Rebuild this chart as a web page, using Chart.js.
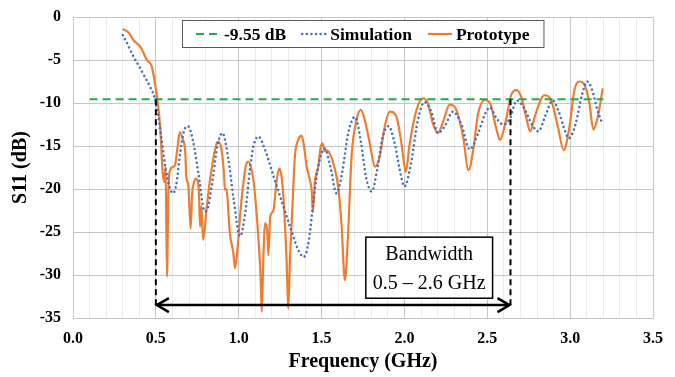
<!DOCTYPE html>
<html>
<head>
<meta charset="utf-8">
<script src="https://cdn.jsdelivr.net/npm/chart.js@4/dist/chart.umd.min.js"></script>
<style>
  html, body { margin: 0; padding: 0; background: #fff; }
  #wrap { width: 675px; height: 377px; }
</style>
</head>
<body>
<div id="wrap"><canvas id="s11Chart"></canvas></div>
<script>
// simulated S11 (blue dotted)
const simFreq = [0.300, 0.330, 0.365, 0.401, 0.426, 0.462, 0.496, 0.522, 0.557, 0.583, 0.603, 0.623, 0.647, 0.669, 0.694,
  0.725, 0.757, 0.795, 0.816, 0.846, 0.871, 0.902, 0.937, 0.968, 1.008, 1.038, 1.069, 1.089, 1.119, 1.160, 1.210, 1.261, 1.312,
  1.362, 1.393, 1.423, 1.453, 1.484, 1.519, 1.554, 1.590, 1.625, 1.661, 1.701, 1.737, 1.767, 1.802, 1.838, 1.868, 1.904,
  1.939, 1.969, 2.000, 2.040, 2.081, 2.121, 2.162, 2.202, 2.243, 2.293, 2.344, 2.394, 2.445, 2.486, 2.516, 2.556, 2.597, 2.637,
  2.678, 2.728, 2.769, 2.809, 2.850, 2.895, 2.931, 2.961, 2.992, 3.032, 3.072, 3.103, 3.133, 3.164, 3.194];
const simS11 = [-2.1, -3.2, -4.6, -5.8, -6.7, -8.0, -9.65, -12.5, -17.4, -19.8, -20.5, -19.5, -15.8, -13.3, -12.7,
  -14.5, -18.2, -22.6, -22.0, -18.5, -15.0, -13.5, -16.5, -21.0, -25.5, -23.0, -17.5, -15.0, -13.9, -15.5, -18.5, -21.5, -24.5,
  -27.2, -27.9, -26.0, -21.0, -17.0, -15.3, -17.5, -20.5, -18.0, -13.5, -11.6, -14.5, -18.5, -20.3, -17.5, -14.0, -12.7,
  -14.5, -17.5, -19.7, -17.0, -12.0, -9.9, -11.0, -13.5, -12.7, -11.0, -12.5, -15.4, -13.5, -11.3, -10.5, -11.8, -12.5, -11.8,
  -9.7, -10.8, -12.5, -13.3, -11.5, -9.7, -11.0, -12.8, -14.1, -12.5, -9.0, -7.5, -8.5, -10.8, -12.4];

// measured S11 (orange)
const protoFreq = [0.300, 0.335, 0.365, 0.406, 0.446, 0.476, 0.496, 0.510, 0.526, 0.542, 0.551, 0.559, 0.567, 0.576,
  0.586, 0.606, 0.616, 0.631, 0.644, 0.664, 0.677, 0.684, 0.696, 0.710, 0.719, 0.727, 0.740, 0.751, 0.760, 0.767, 0.775,
  0.785, 0.806, 0.826, 0.836, 0.851, 0.867, 0.876, 0.897, 0.912, 0.917, 0.927, 0.937, 0.947, 0.968, 0.978, 0.992, 1.008, 1.028,
  1.044, 1.059, 1.074, 1.089, 1.104, 1.118, 1.132, 1.139, 1.148, 1.159, 1.173, 1.179, 1.190, 1.208, 1.229, 1.245, 1.259,
  1.271, 1.289, 1.299, 1.310, 1.326, 1.339, 1.359, 1.379, 1.393, 1.410, 1.430, 1.440, 1.448, 1.459, 1.480, 1.494, 1.506,
  1.519, 1.530, 1.550, 1.571, 1.600, 1.620, 1.641, 1.661, 1.681, 1.711, 1.737, 1.761, 1.791, 1.822, 1.851, 1.881,
  1.912, 1.952, 1.982, 2.008, 2.032, 2.073, 2.112, 2.141, 2.172, 2.202, 2.233, 2.273, 2.313, 2.354, 2.387, 2.415, 2.445, 2.486,
  2.516, 2.556, 2.577, 2.607, 2.644, 2.675, 2.705, 2.734, 2.759, 2.789, 2.845, 2.885, 2.926, 2.961, 2.996, 3.026, 3.056,
  3.087, 3.116, 3.140, 3.167, 3.197];
const protoS11 = [-1.4, -1.8, -2.7, -3.45, -5.0, -5.8, -7.9, -9.65, -12.75, -18.2, -19.2, -17.4, -30.2, -19.9,
  -17.8, -17.4, -17.2, -15.1, -13.4, -14.3, -15.6, -18.6, -19.6, -24.6, -20.5, -19.5, -18.8, -19.0, -20.5, -24.4, -22.0,
  -25.9, -22.4, -19.0, -17.8, -16.0, -14.7, -14.5, -15.5, -18.5, -20.1, -20.0, -22.5, -25.2, -27.5, -29.2, -27.1, -23.2, -19.3,
  -17.2, -16.8, -17.5, -19.0, -21.9, -25.5, -30.2, -34.3, -28.5, -24.0, -25.2, -27.7, -23.2, -22.6, -19.0, -17.6, -18.6,
  -21.3, -28.3, -33.9, -27.9, -21.3, -16.2, -14.3, -13.8, -14.9, -17.4, -19.0, -20.1, -22.7, -19.3, -17.4, -15.2, -14.7,
  -15.6, -15.5, -15.9, -17.0, -19.7, -24.0, -30.6, -24.8, -16.2, -12.0, -10.8, -12.0, -14.7, -17.4, -16.2, -12.75,
  -11.0, -11.6, -14.7, -18.0, -14.7, -10.8, -9.45, -10.0, -12.4, -13.5, -12.2, -10.2, -10.8, -13.9, -17.8, -15.5, -11.2, -9.65,
  -10.0, -13.1, -14.3, -12.5, -9.1, -8.5, -9.3, -11.6, -13.3, -11.4, -9.1, -9.65, -12.75, -15.5, -12.75, -8.5, -7.5,
  -7.9, -10.0, -13.1, -11.6, -8.3];

// -9.55 dB reference line
const refFreq = [0.1, 3.2];
const refLevel = -9.55;

// bandwidth marker
const bandStart = 0.5;
const bandEnd = 2.64;
const arrowLevel = -33.5;
const bandText = ['Bandwidth', '0.5 \u2013 2.6 GHz'];
const bandBoxFreq = [1.767, 2.532];
const bandBoxDb = [-25.6, -32.7];

// axes
const xMin = 0, xMax = 3.5, xStep = 0.1;
const yMin = -35, yMax = 0, yStep = 5;

const serif = '"Liberation Serif", "Times New Roman", serif';

function toPoints(xs, ys) {
    return xs.map((x, i) => ({ x: x, y: ys[i] }));
}

const isMajor = v => Math.abs(v * 2 - Math.round(v * 2)) < 1e-6;

// dashed verticals, double arrow and the bandwidth box
const bandPlugin = {
    id: 'bandPlugin',
    afterDatasetsDraw(chart) {
        const ctx = chart.ctx;
        const xs = chart.scales.x, ys = chart.scales.y;
        const x1 = xs.getPixelForValue(bandStart);
        const x2 = xs.getPixelForValue(bandEnd);
        const yTop = ys.getPixelForValue(refLevel);
        const yArr = ys.getPixelForValue(arrowLevel);

        ctx.save();
        ctx.strokeStyle = '#000';
        ctx.lineWidth = 2;
        ctx.setLineDash([6, 4]);
        [x1, x2].forEach(x => {
            ctx.beginPath();
            ctx.moveTo(x, yTop);
            ctx.lineTo(x, yArr);
            ctx.stroke();
        });
        ctx.setLineDash([]);
        ctx.lineWidth = 2.5;
        ctx.beginPath();
        ctx.moveTo(x1 + 1, yArr);
        ctx.lineTo(x2 - 1, yArr);
        ctx.stroke();
        ctx.beginPath();
        ctx.moveTo(x1 + 13, yArr - 7);
        ctx.lineTo(x1 + 1, yArr);
        ctx.lineTo(x1 + 13, yArr + 7);
        ctx.moveTo(x2 - 13, yArr - 7);
        ctx.lineTo(x2 - 1, yArr);
        ctx.lineTo(x2 - 13, yArr + 7);
        ctx.stroke();

        // text box
        const bx1 = xs.getPixelForValue(bandBoxFreq[0]), bx2 = xs.getPixelForValue(bandBoxFreq[1]);
        const by1 = ys.getPixelForValue(bandBoxDb[0]), by2 = ys.getPixelForValue(bandBoxDb[1]);
        ctx.fillStyle = '#fff';
        ctx.fillRect(bx1, by1, bx2 - bx1, by2 - by1);
        ctx.lineWidth = 1.5;
        ctx.strokeRect(bx1, by1, bx2 - bx1, by2 - by1);
        ctx.fillStyle = '#000';
        ctx.font = '20px ' + serif;
        ctx.textAlign = 'center';
        ctx.textBaseline = 'middle';
        const cx = (bx1 + bx2) / 2;
        ctx.fillText(bandText[0], cx, by1 + 18);
        ctx.fillText(bandText[1], cx, by1 + 47);
        ctx.restore();
    }
};

// legend box inside the plot
const boxLegend = {
    id: 'boxLegend',
    afterDraw(chart) {
        const ctx = chart.ctx;
        const area = chart.chartArea;
        const left = area.left + 109, top = area.top + 3, h = 27;
        ctx.save();
        ctx.font = 'bold 17.5px ' + serif;
        const items = chart.data.datasets.filter(d => d.label);
        const widths = items.map(d => ctx.measureText(d.label).width);
        const sample = 24, gap = 4, spacing = 16, pad = 14;
        const total = widths.reduce((a, b) => a + b, 0) + items.length * (sample + gap) + (items.length - 1) * spacing;
        const w = total + pad * 2;
        ctx.fillStyle = '#fff';
        ctx.fillRect(left, top, w, h);
        ctx.strokeStyle = '#595959';
        ctx.lineWidth = 1;
        ctx.strokeRect(left + 0.5, top + 0.5, w, h);
        let x = left + pad;
        const cy = top + h / 2 + 0.5;
        items.forEach((d, i) => {
            ctx.strokeStyle = d.borderColor;
            ctx.lineWidth = d.borderWidth;
            ctx.lineCap = d.borderCapStyle || 'butt';
            ctx.setLineDash(d.borderDash || []);
            ctx.beginPath();
            ctx.moveTo(x, cy);
            ctx.lineTo(x + sample, cy);
            ctx.stroke();
            ctx.setLineDash([]);
            ctx.fillStyle = '#000';
            ctx.textAlign = 'left';
            ctx.textBaseline = 'middle';
            ctx.fillText(d.label, x + sample + gap, cy + 1);
            x += sample + gap + widths[i] + spacing;
        });
        ctx.restore();
    }
};

const ctx = document.getElementById('s11Chart').getContext('2d');
new Chart(ctx, {
    type: 'line',
    data: {
        datasets: [
            {
                label: '-9.55 dB',
                data: refFreq.map(x => ({ x: x, y: refLevel })),
                borderColor: '#1EAD4B',
                borderWidth: 2,
                borderDash: [8, 5],
                pointRadius: 0
            },
            {
                label: 'Simulation',
                data: toPoints(simFreq, simS11),
                borderColor: '#4472C4',
                borderWidth: 2.6,
                borderDash: [0.01, 4.6],
                borderCapStyle: 'round',
                cubicInterpolationMode: 'monotone',
                pointRadius: 0
            },
            {
                label: 'Prototype',
                data: toPoints(protoFreq, protoS11),
                borderColor: '#ED7D31',
                borderWidth: 2.2,
                cubicInterpolationMode: 'monotone',
                pointRadius: 0
            }
        ]
    },
    options: {
        responsive: true,
        maintainAspectRatio: false,
        animation: false,
        layout: { padding: { top: 17, right: 22, left: 0, bottom: 0 } },
        scales: {
            x: {
                type: 'linear',
                min: xMin,
                max: xMax,
                afterFit: s => { s.height = 59; },
                ticks: {
                    stepSize: xStep,
                    autoSkip: false,
                    maxRotation: 0,
                    padding: 11,
                    color: '#000',
                    font: { family: serif, size: 16, weight: 'bold' },
                    callback: v => isMajor(v) ? v.toFixed(1) : ''
                },
                grid: {
                    drawTicks: false,
                    color: c => isMajor(c.tick.value) ? '#c6c6c6' : '#ececec',
                    lineWidth: 1
                },
                border: { color: '#c6c6c6' },
                title: {
                    display: true,
                    text: 'Frequency (GHz)',
                    color: '#000',
                    font: { family: serif, size: 20, weight: 'bold' },
                    padding: { top: 0, bottom: 3 }
                }
            },
            y: {
                min: yMin,
                max: yMax,
                // keep the label padding from pushing the plot top down
                afterFit: s => { s.width = 73; s.paddingTop = 0; s.paddingBottom = 0; },
                ticks: {
                    stepSize: yStep,
                    padding: 12,
                    color: '#000',
                    font: { family: serif, size: 16, weight: 'bold' }
                },
                grid: { drawTicks: false, color: '#c6c6c6' },
                border: { color: '#c6c6c6' },
                title: {
                    display: true,
                    text: 'S11 (dB)',
                    color: '#000',
                    font: { family: serif, size: 20, weight: 'bold' },
                    padding: { top: 9, bottom: 0 }
                }
            }
        },
        plugins: {
            legend: { display: false },
            tooltip: { enabled: false }
        }
    },
    plugins: [bandPlugin, boxLegend]
});
</script>
</body>
</html>
